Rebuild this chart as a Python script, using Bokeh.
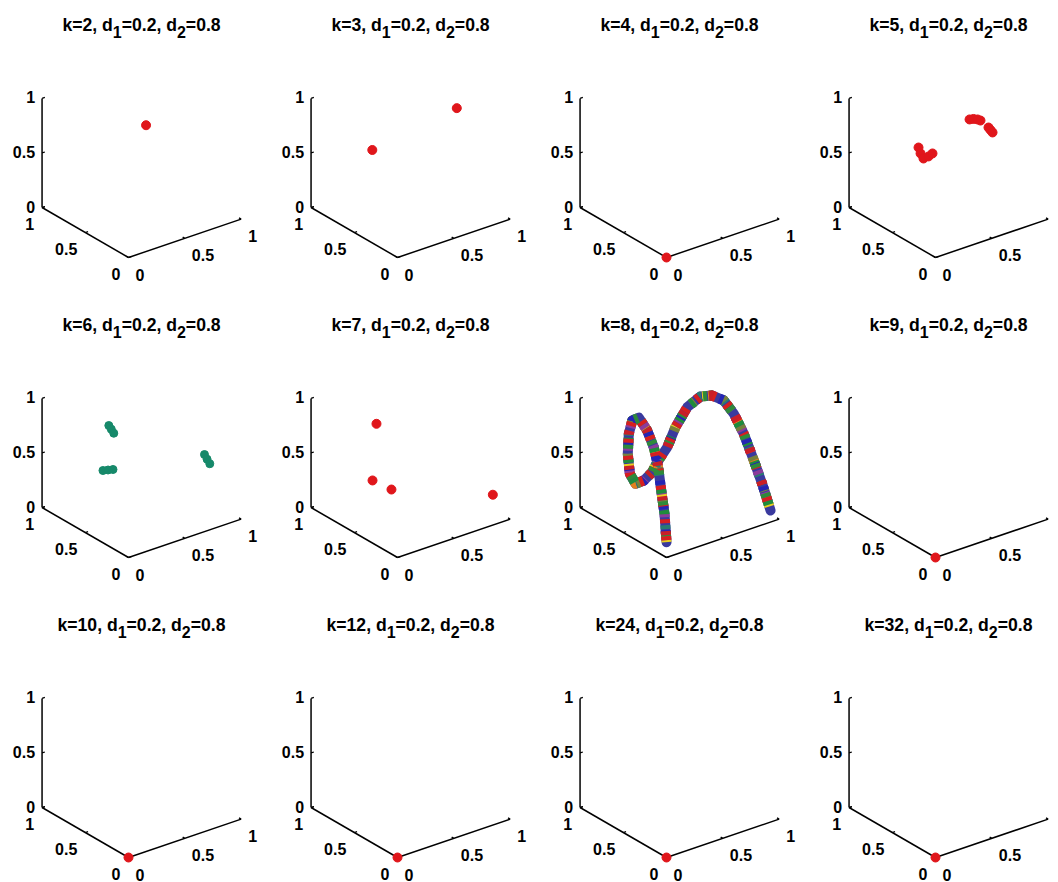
import numpy as np
from bokeh.plotting import figure
from bokeh.layouts import gridplot
from bokeh.models import Range1d
from bokeh.core.properties import value
from bokeh.embed import file_html
from bokeh.resources import INLINE

# ---------------------------------------------------------------- data
K_VALUES = [2, 3, 4, 5, 6, 7, 8, 9, 10, 12, 24, 32]
D1, D2 = 0.2, 0.8
TICKS = [0.0, 0.5, 1.0]
TICK_LABELS = ["0", "0.5", "1"]

# attractor points (x1, x2, x3) for each k
k2_x = [0.67]
k2_y = [0.67]
k2_z = [0.67]

k3_x = [0.16, 0.91]
k3_y = [0.50, 0.50]
k3_z = [0.70, 0.82]

k4_x = [0.0]
k4_y = [0.0]
k4_z = [0.0]

k5_x = [0.686, 0.721, 0.757, 0.783, 0.854, 0.872, 0.890, 0.233, 0.251, 0.277, 0.322, 0.357]
k5_y = [0.50, 0.50, 0.50, 0.50, 0.50, 0.50, 0.50, 0.50, 0.50, 0.50, 0.50, 0.50]
k5_z = [0.795, 0.787, 0.770, 0.751, 0.662, 0.633, 0.604, 0.697, 0.636, 0.581, 0.584, 0.599]

k6_x = [0.209, 0.231, 0.253, 0.157, 0.202, 0.246, 0.828, 0.851, 0.875]
k6_y = [0.50, 0.50, 0.50, 0.50, 0.50, 0.50, 0.20, 0.20, 0.20]
k6_z = [0.907, 0.865, 0.821, 0.513, 0.502, 0.491, 0.561, 0.510, 0.460]

k7_x = [0.197, 0.162, 0.330, 0.923]
k7_y = [0.50, 0.50, 0.50, 0.10]
k7_z = [0.927, 0.420, 0.278, 0.205]

# invariant curve for k=8
k8_x = [0.146, 0.151, 0.153, 0.162, 0.171, 0.171, 0.151, 0.146, 0.118, 0.126,
        0.132, 0.135, 0.155, 0.198, 0.257, 0.293, 0.375, 0.448, 0.568, 0.701,
        0.789, 0.854, 0.889, 0.916, 0.929, 0.949, 0.985]
k8_y = [0.19, 0.22, 0.26, 0.30, 0.33, 0.37, 0.42, 0.51, 0.55, 0.60,
        0.62, 0.60, 0.56, 0.52, 0.50, 0.49, 0.48, 0.48, 0.50, 0.52,
        0.50, 0.45, 0.38, 0.30, 0.20, 0.13, 0.08]
k8_z = [0.002, 0.247, 0.441, 0.587, 0.662, 0.781, 0.918, 0.996, 0.962, 0.815,
        0.620, 0.445, 0.365, 0.398, 0.463, 0.546, 0.659, 0.817, 0.949, 0.991,
        0.978, 0.933, 0.831, 0.674, 0.471, 0.282, 0.048]

origin_x = [0.0]
origin_y = [0.0]
origin_z = [0.0]

POINTS = {
    2: (k2_x, k2_y, k2_z), 3: (k3_x, k3_y, k3_z), 4: (k4_x, k4_y, k4_z),
    5: (k5_x, k5_y, k5_z), 6: (k6_x, k6_y, k6_z), 7: (k7_x, k7_y, k7_z),
    8: (k8_x, k8_y, k8_z), 9: (origin_x, origin_y, origin_z),
    10: (origin_x, origin_y, origin_z), 12: (origin_x, origin_y, origin_z),
    24: (origin_x, origin_y, origin_z), 32: (origin_x, origin_y, origin_z),
}

# ---------------------------------------------------------------- style
RED = "#e0161b"
GREEN = "#16896a"
CURVE_BASE = "#3a3a9e"
CURVE_COLORS = ["#e9cf1f", "#e2801f", "#2a7a72", "#8b3b9b", "#77803c",
                "#1f8c3c", "#2424b4", "#d61f1f", "#2f8a3a", "#c81e28"]
CURVE_GAPS = [41, 37, 23, 19, 29, 17, 21, 13, 27, 31]
FONT = "Liberation Sans"
TITLE_SIZE, SUB_SIZE, TICK_SIZE = 17.6, 16.0, 16

# default MATLAB 3-D view, orthographic
AZ, EL = -37.5, 30.0
SX, SY = 142.0, 126.0          # px per projected unit (axes stretched to fill)

PANEL_W, PANEL_H = 269, 300
LAST_W, LAST_H = 251, 282
ORIGIN_PX, ORIGIN_PY = 128, 257  # front corner of the box inside a panel


def project(x, y, z):
    a, e = np.radians(AZ), np.radians(EL)
    x, y, z = np.asarray(x, float), np.asarray(y, float), np.asarray(z, float)
    u = np.cos(a) * x + np.sin(a) * y
    v = -np.sin(e) * np.sin(a) * x + np.sin(e) * np.cos(a) * y + np.cos(e) * z
    return SX * u, SY * v


# Liberation Sans Bold advance widths (per 1000 em)
ADV = {"k": 556, "=": 584, ",": 278, " ": 278, "d": 611, ".": 278}
ADV.update({str(i): 556 for i in range(10)})


def text_width(s, size):
    return sum(ADV[c] for c in s) / 1000.0 * size


def draw_title(p, k):
    pieces = [(f"k={k}, d", TITLE_SIZE, 0), ("1", SUB_SIZE, 7), (f"={D1:g}, d", TITLE_SIZE, 0),
              ("2", SUB_SIZE, 7), (f"={D2:g}", TITLE_SIZE, 0)]
    total = sum(text_width(s, sz) for s, sz, _ in pieces)
    cx, mid_v = 13.0, ORIGIN_PY - 24.0
    off = -total / 2.0
    for s, sz, drop in pieces:
        p.text(x=[cx], y=[mid_v], text=[s], x_offset=off, y_offset=drop,
               text_font=value(FONT), text_font_style="bold",
               text_font_size=f"{sz}px", text_align="left",
               text_baseline="middle", text_color="black")
        off += text_width(s, sz)


def draw_axes(p, frame_right):
    t = np.array(TICKS)
    zeros, ones = np.zeros(3), np.ones(3)
    # box edges: x (front right), y (front left), z (left vertical)
    edges = [((0, 1), (0, 0), (0, 0)), ((0, 0), (0, 1), (0, 0)), ((0, 0), (1, 1), (0, 1))]
    for ex, ey, ez in edges:
        u, v = project(ex, ey, ez)
        p.line(u, v, line_color="black", line_width=1.5)
    tl = 0.025
    tick_segs = [
        (np.c_[t, t], np.c_[zeros, zeros + tl], np.c_[zeros, zeros]),
        (np.c_[zeros, zeros + tl], np.c_[t, t], np.c_[zeros, zeros]),
        (np.c_[zeros, zeros + tl], np.c_[ones, ones], np.c_[t, t]),
    ]
    for sx, sy, sz in tick_segs:
        us, vs = [], []
        for i in range(len(t)):
            u, v = project(sx[i], sy[i], sz[i])
            us.append(list(u)); vs.append(list(v))
        p.multi_line(us, vs, line_color="black", line_width=1.3)

    lab = dict(text_font=value(FONT), text_font_style="bold",
               text_font_size=f"{TICK_SIZE}px", text_color="black", text_baseline="middle")
    # x labels sit to the right of their ticks; drop those past the panel edge
    u, v = project(t, zeros, zeros)
    keep = [i for i in range(len(t))
            if u[i] + 7 + text_width(TICK_LABELS[i], TICK_SIZE) <= frame_right]
    p.text(x=u[keep], y=v[keep], text=[TICK_LABELS[i] for i in keep],
           x_offset=7, y_offset=17, text_align="left", **lab)
    u, v = project(zeros, t, zeros)
    p.text(x=u, y=v, text=TICK_LABELS, x_offset=-8, y_offset=16, text_align="right", **lab)
    u, v = project(zeros, ones, t)
    p.text(x=u, y=v, text=TICK_LABELS, x_offset=-7, y_offset=-1, text_align="right", **lab)


def make_panel(k, w, h):
    p = figure(width=w, height=h, output_backend="svg", toolbar_location=None,
               x_range=Range1d(-ORIGIN_PX, w - ORIGIN_PX),
               y_range=Range1d(-(h - ORIGIN_PY), ORIGIN_PY),
               x_axis_type=None, y_axis_type=None, min_border=0)
    p.outline_line_color = None
    p.background_fill_color = "white"
    p.border_fill_color = "white"
    draw_title(p, k)
    draw_axes(p, w - ORIGIN_PX)

    xs, ys, zs = POINTS[k]
    u, v = project(xs, ys, zs)
    if k == 8:
        # thick tube of many coloured markers
        p.line(u, v, line_color=CURVE_BASE, line_width=10, line_cap="round", line_join="round")
        for i, (c, g) in enumerate(zip(CURVE_COLORS, CURVE_GAPS)):
            p.line(u, v, line_color=c, line_width=10, line_join="round",
                   line_dash=f"4 {g}", line_dash_offset=7 * i)
    elif k == 6:
        p.scatter(u, v, size=8, fill_color=GREEN, line_color=GREEN)
    else:
        p.scatter(u, v, size=9, fill_color=RED, line_color=RED)
    return p


rows = []
for r in range(3):
    row = []
    for c in range(4):
        k = K_VALUES[r * 4 + c]
        w = LAST_W if c == 3 else PANEL_W
        h = LAST_H if r == 2 else PANEL_H
        row.append(make_panel(k, w, h))
    rows.append(row)

grid = gridplot(rows, toolbar_location=None)

with open("out.html", "w") as f:
    f.write(file_html(grid, INLINE))
